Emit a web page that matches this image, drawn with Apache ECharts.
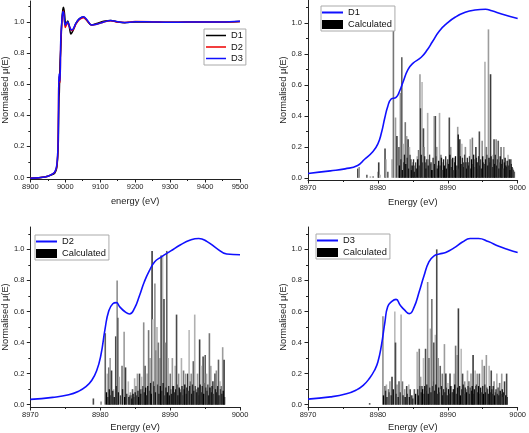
<!DOCTYPE html>
<html><head><meta charset="utf-8">
<script src="https://cdn.jsdelivr.net/npm/echarts@6/dist/echarts.min.js"></script>
<style>html,body{margin:0;padding:0;background:#fff}#c{width:529px;height:433px}</style>
</head><body><div id="c"></div>
<script>
// ---------- DATA ----------
// Panel 1: XANES overview (energy eV, normalised mu)
const xasEnergy = [8900, 8930, 8950, 8965, 8970, 8975, 8978, 8980, 8981, 8982, 8983, 8985, 8987, 8990, 8993, 8995, 8998, 9000, 9003, 9007, 9011, 9016, 9020, 9025, 9030, 9040, 9052, 9062, 9075, 9090, 9110, 9130, 9150, 9170, 9200, 9250, 9300, 9350, 9400, 9450, 9500];
const xasD1 = [-0.005, 0.0, 0.008, 0.02, 0.028, 0.055, 0.12, 0.22, 0.39, 0.51, 0.55, 0.74, 0.82, 1.0, 1.08, 1.095, 1.05, 1.0, 0.99, 1.006, 0.975, 0.923, 0.935, 0.96, 0.99, 1.02, 1.032, 1.01, 0.98, 0.99, 1.005, 1.01, 1.0, 0.995, 1.0, 1.0, 0.998, 1.0, 1.0, 1.0, 1.003];
const xasD2 = [-0.005, 0.0, 0.008, 0.025, 0.034, 0.064, 0.13, 0.32, 0.55, 0.65, 0.64, 0.61, 0.86, 0.99, 1.06, 1.07, 1.0, 0.965, 0.98, 0.995, 0.975, 0.95, 0.945, 0.96, 0.985, 1.015, 1.028, 1.01, 0.98, 0.985, 1.0, 1.008, 1.0, 0.997, 1.003, 1.002, 0.998, 1.0, 1.0, 1.0, 1.003];
const xasD3 = [-0.005, 0.0, 0.008, 0.025, 0.036, 0.07, 0.14, 0.275, 0.53, 0.665, 0.65, 0.62, 0.88, 1.0, 1.065, 1.066, 1.0, 0.98, 0.99, 1.0, 0.98, 0.952, 0.95, 0.965, 0.99, 1.02, 1.034, 1.015, 0.98, 0.985, 1.0, 1.01, 1.002, 0.996, 1.002, 1.0, 0.998, 1.0, 1.0, 1.0, 1.005];

// Pre-edge panels: measured curves [energy, mu]
const edgeD1 = [[8970,0.028],[8973.2,0.045],[8975.3,0.058],[8977.1,0.08],[8978.1,0.12],[8979.3,0.17],[8980,0.22],[8980.5,0.29],[8981,0.39],[8981.4,0.46],[8981.9,0.51],[8982.6,0.52],[8983.1,0.56],[8983.6,0.62],[8984.3,0.70],[8985,0.74],[8986.2,0.78],[8987.1,0.83],[8987.8,0.88],[8988.8,0.95],[8989.9,1.0],[8991.1,1.04],[8992.5,1.07],[8993.9,1.085],[8995.4,1.09],[8996.3,1.08],[8997.7,1.06],[9000,1.03]];
const edgeD2 = [[8970,0.034],[8973.2,0.047],[8975.5,0.064],[8976.9,0.086],[8977.9,0.114],[8978.8,0.157],[8979.5,0.22],[8980.1,0.32],[8980.7,0.49],[8981.2,0.60],[8981.8,0.65],[8982.3,0.657],[8982.8,0.63],[8983.5,0.60],[8984.2,0.584],[8984.9,0.62],[8985.6,0.70],[8986.3,0.79],[8987,0.86],[8987.8,0.92],[8988.7,0.95],[8990.1,0.99],[8991.5,1.03],[8992.9,1.06],[8994.1,1.07],[8995.3,1.05],[8996.7,1.005],[8998.1,0.97],[9000,0.965]];
const edgeD3 = [[8970,0.036],[8973.2,0.05],[8975.5,0.07],[8976.9,0.094],[8977.9,0.124],[8978.8,0.17],[8979.5,0.22],[8980,0.275],[8980.5,0.38],[8981,0.53],[8981.4,0.63],[8982,0.665],[8982.6,0.678],[8983.2,0.64],[8983.8,0.61],[8984.5,0.586],[8985.2,0.63],[8985.9,0.725],[8986.6,0.83],[8987.3,0.92],[8988,0.957],[8988.8,0.97],[8989.7,0.98],[8990.9,1.01],[8992.1,1.047],[8993.2,1.07],[8994.4,1.07],[8995.8,1.05],[8997.3,1.02],[8998.7,0.998],[9000,0.98]];

// Calculated stick spectra [energy, intensity] - prominent sticks
const calcD1 = [[8977.1,0.06],[8977.3,0.07],[8978.4,0.02],[8978.9,0.01],[8979.3,0.01],[8980.0,0.04],[8980.1,0.10],[8980.3,0.02],[8981.0,0.19],[8981.1,0.12],[8981.4,0.04],[8982.0,0.12],[8982.2,1.00],[8982.5,0.39],[8982.7,0.27],[8982.9,0.08],[8983.0,0.20],[8983.2,0.55],[8983.4,0.78],[8983.6,0.22],[8983.9,0.36],[8984.1,0.27],[8984.3,0.25],[8984.5,0.20],[8984.7,0.12],[8985.0,0.10],[8985.3,0.08],[8985.6,0.14],[8985.8,0.18],[8986.0,0.67],[8986.1,0.45],[8986.3,0.62],[8986.5,0.32],[8986.6,0.20],[8986.8,0.10],[8987.1,0.42],[8987.3,0.12],[8987.5,0.09],[8987.8,0.05],[8988.0,0.40],[8988.2,0.40],[8988.4,0.20],[8988.6,0.08],[8988.8,0.42],[8989.0,0.15],[8989.3,0.10],[8989.6,0.06],[8989.9,0.10],[8990.2,0.39],[8990.4,0.20],[8990.6,0.12],[8990.9,0.13],[8991.2,0.05],[8991.4,0.33],[8991.7,0.25],[8992.0,0.22],[8992.2,0.10],[8992.5,0.20],[8992.9,0.10],[8993.2,0.25],[8993.5,0.26],[8993.8,0.12],[8994.0,0.20],[8994.3,0.06],[8994.5,0.30],[8994.9,0.24],[8995.1,0.10],[8995.3,0.75],[8995.5,0.20],[8995.8,0.96],[8996.1,0.67],[8996.3,0.15],[8996.6,0.25],[8996.9,0.25],[8997.2,0.24],[8997.4,0.10],[8997.6,0.20],[8998.0,0.20],[8998.3,0.08],[8998.6,0.15],[8999.0,0.12],[8999.3,0.06],[8999.5,0.04]];
const calcD2 = [[8979.0,0.04],[8980.1,0.02],[8980.7,0.46],[8981.0,0.20],[8981.2,0.24],[8981.4,0.30],[8981.6,0.22],[8981.9,0.10],[8982.2,0.44],[8982.4,0.80],[8982.5,0.56],[8982.7,0.18],[8983.1,0.25],[8983.4,0.47],[8983.6,0.24],[8984.0,0.15],[8984.2,0.06],[8984.3,0.08],[8984.6,0.10],[8984.9,0.17],[8985.1,0.12],[8985.3,0.20],[8985.6,0.20],[8985.9,0.18],[8986.0,0.10],[8986.2,0.53],[8986.4,0.25],[8986.7,0.20],[8986.9,0.48],[8987.1,0.30],[8987.4,0.99],[8987.5,0.55],[8987.6,0.15],[8987.8,0.78],[8988.0,0.35],[8988.1,0.50],[8988.3,0.40],[8988.5,0.30],[8988.7,0.96],[8988.9,0.96],[8989.1,0.68],[8989.3,0.40],[8989.5,0.99],[8989.7,0.30],[8990.0,0.20],[8990.3,0.30],[8990.5,0.12],[8990.7,0.25],[8990.9,0.58],[8991.2,0.20],[8991.4,0.10],[8991.6,0.30],[8991.9,0.22],[8992.2,0.20],[8992.5,0.20],[8992.7,0.48],[8992.9,0.15],[8993.0,0.20],[8993.3,0.28],[8993.5,0.58],[8993.7,0.10],[8993.9,0.20],[8994.2,0.42],[8994.4,0.25],[8994.7,0.31],[8994.9,0.14],[8995.0,0.32],[8995.2,0.20],[8995.6,0.46],[8995.8,0.25],[8996.1,0.15],[8996.3,0.10],[8996.4,0.20],[8996.6,0.22],[8996.9,0.29],[8997.1,0.15],[8997.3,0.12],[8997.5,0.37],[8997.7,0.29]];
const calcD3 = [[8978.8,0.01],[8980.7,0.57],[8981.0,0.12],[8981.2,0.13],[8981.5,0.10],[8981.7,0.15],[8982.0,0.18],[8982.4,0.60],[8982.5,0.40],[8982.7,0.13],[8983.0,0.15],[8983.3,0.58],[8983.5,0.15],[8983.8,0.10],[8984.1,0.12],[8984.4,0.13],[8984.6,0.10],[8984.9,0.06],[8985.2,0.10],[8985.6,0.34],[8985.9,0.36],[8986.1,0.18],[8986.3,0.12],[8986.5,0.30],[8986.8,0.36],[8987.1,0.79],[8987.3,0.30],[8987.5,0.49],[8987.7,0.68],[8987.9,0.15],[8988.0,0.40],[8988.2,0.45],[8988.4,1.00],[8988.6,0.30],[8988.9,0.25],[8989.0,0.10],[8989.2,0.20],[8989.5,0.39],[8989.7,0.20],[8990.0,0.14],[8990.3,0.20],[8990.5,0.12],[8990.7,0.08],[8990.9,0.20],[8991.1,0.38],[8991.3,0.32],[8991.5,0.62],[8991.9,0.36],[8992.1,0.20],[8992.4,0.15],[8992.6,0.10],[8992.8,0.22],[8993.0,0.15],[8993.3,0.20],[8993.6,0.32],[8993.9,0.22],[8994.0,0.12],[8994.2,0.20],[8994.5,0.20],[8994.9,0.29],[8995.2,0.25],[8995.5,0.32],[8995.7,0.10],[8995.9,0.25],[8996.2,0.22],[8996.6,0.15],[8996.8,0.08],[8997.0,0.20],[8997.4,0.14],[8997.7,0.20],[8998.1,0.15],[8998.2,0.06],[8998.4,0.20]];

// Calculated stick spectra - dense weak transitions (dark base)
const calcD1Low = [[8983.1,0.08],[8983.3,0.12],[8983.5,0.05],[8983.7,0.10],[8983.8,0.15],[8984.0,0.09],[8984.2,0.13],[8984.4,0.06],[8984.6,0.15],[8984.8,0.05],[8984.9,0.08],[8985.1,0.12],[8985.2,0.04],[8985.4,0.10],[8985.5,0.06],[8985.7,0.12],[8985.9,0.08],[8986.2,0.15],[8986.4,0.10],[8986.7,0.14],[8986.9,0.06],[8987.0,0.12],[8987.2,0.08],[8987.4,0.15],[8987.6,0.10],[8987.7,0.05],[8987.9,0.13],[8988.1,0.09],[8988.3,0.14],[8988.5,0.06],[8988.7,0.11],[8988.9,0.08],[8989.1,0.13],[8989.2,0.05],[8989.4,0.12],[8989.5,0.08],[8989.7,0.14],[8989.8,0.06],[8990.0,0.12],[8990.1,0.09],[8990.3,0.15],[8990.5,0.07],[8990.7,0.13],[8990.8,0.05],[8991.0,0.10],[8991.1,0.14],[8991.3,0.08],[8991.5,0.28],[8991.6,0.06],[8991.8,0.14],[8991.9,0.09],[8992.1,0.13],[8992.3,0.07],[8992.4,0.15],[8992.6,0.10],[8992.7,0.06],[8992.8,0.13],[8993.0,0.08],[8993.1,0.14],[8993.3,0.06],[8993.4,0.12],[8993.6,0.09],[8993.7,0.15],[8993.9,0.07],[8994.1,0.13],[8994.2,0.10],[8994.4,0.14],[8994.6,0.08],[8994.7,0.12],[8994.8,0.06],[8995.0,0.14],[8995.2,0.09],[8995.4,0.12],[8995.6,0.15],[8995.7,0.08],[8995.9,0.13],[8996.0,0.10],[8996.2,0.14],[8996.4,0.07],[8996.5,0.12],[8996.7,0.09],[8996.8,0.15],[8997.0,0.08],[8997.1,0.12],[8997.3,0.06],[8997.5,0.14],[8997.7,0.09],[8997.8,0.12],[8997.9,0.06],[8998.1,0.10],[8998.2,0.13],[8998.4,0.07],[8998.5,0.11],[8998.7,0.08],[8998.8,0.12],[8998.9,0.05],[8999.1,0.09],[8999.2,0.07],[8999.4,0.05]];
const calcD2Low = [[8980.9,0.08],[8981.1,0.05],[8981.3,0.10],[8981.5,0.06],[8981.8,0.09],[8982.0,0.05],[8982.3,0.12],[8982.6,0.08],[8982.9,0.06],[8983.2,0.10],[8983.5,0.05],[8983.8,0.07],[8984.1,0.05],[8984.4,0.06],[8984.5,0.04],[8984.7,0.07],[8984.8,0.05],[8985.0,0.08],[8985.2,0.06],[8985.4,0.09],[8985.5,0.05],[8985.7,0.10],[8985.8,0.07],[8986.1,0.12],[8986.3,0.08],[8986.5,0.11],[8986.6,0.06],[8986.8,0.12],[8987.0,0.09],[8987.2,0.14],[8987.3,0.07],[8987.7,0.12],[8987.9,0.08],[8988.2,0.13],[8988.4,0.07],[8988.6,0.12],[8988.8,0.09],[8989.0,0.14],[8989.2,0.06],[8989.4,0.11],[8989.6,0.08],[8989.8,0.12],[8989.9,0.06],[8990.1,0.10],[8990.2,0.07],[8990.4,0.12],[8990.6,0.08],[8990.8,0.10],[8991.0,0.13],[8991.1,0.06],[8991.3,0.11],[8991.5,0.08],[8991.7,0.12],[8991.8,0.06],[8992.0,0.10],[8992.1,0.13],[8992.3,0.07],[8992.4,0.11],[8992.6,0.09],[8992.8,0.12],[8993.1,0.07],[8993.2,0.13],[8993.4,0.09],[8993.6,0.12],[8993.8,0.08],[8994.0,0.11],[8994.1,0.06],[8994.3,0.13],[8994.5,0.08],[8994.6,0.12],[8994.8,0.07],[8995.1,0.11],[8995.3,0.09],[8995.4,0.13],[8995.5,0.06],[8995.7,0.11],[8995.9,0.08],[8996.0,0.12],[8996.2,0.07],[8996.5,0.10],[8996.7,0.08],[8996.8,0.12],[8997.0,0.06],[8997.2,0.10],[8997.4,0.07],[8997.6,0.09],[8997.8,0.05]];
const calcD3Low = [[8980.8,0.06],[8981.1,0.09],[8981.3,0.05],[8981.6,0.08],[8981.9,0.06],[8982.2,0.10],[8982.6,0.07],[8982.9,0.05],[8983.2,0.08],[8983.6,0.06],[8983.9,0.05],[8984.2,0.07],[8984.5,0.05],[8984.8,0.06],[8985.0,0.04],[8985.4,0.07],[8985.7,0.10],[8985.8,0.06],[8986.0,0.12],[8986.2,0.08],[8986.4,0.10],[8986.6,0.07],[8986.7,0.12],[8986.9,0.09],[8987.0,0.13],[8987.2,0.07],[8987.4,0.11],[8987.6,0.08],[8987.8,0.12],[8988.1,0.09],[8988.3,0.13],[8988.5,0.07],[8988.7,0.11],[8988.8,0.08],[8989.1,0.12],[8989.3,0.06],[8989.4,0.10],[8989.6,0.08],[8989.8,0.11],[8989.9,0.06],[8990.1,0.10],[8990.2,0.07],[8990.4,0.12],[8990.6,0.08],[8990.8,0.10],[8991.0,0.13],[8991.2,0.07],[8991.4,0.11],[8991.6,0.08],[8991.7,0.12],[8991.8,0.06],[8992.0,0.10],[8992.2,0.13],[8992.3,0.07],[8992.5,0.11],[8992.7,0.08],[8992.9,0.12],[8993.1,0.07],[8993.2,0.11],[8993.4,0.09],[8993.5,0.12],[8993.7,0.07],[8993.8,0.10],[8994.1,0.13],[8994.3,0.08],[8994.4,0.12],[8994.6,0.07],[8994.7,0.11],[8994.8,0.08],[8995.0,0.12],[8995.1,0.07],[8995.3,0.13],[8995.4,0.08],[8995.6,0.11],[8995.8,0.07],[8996.0,0.12],[8996.1,0.08],[8996.3,0.10],[8996.4,0.07],[8996.5,0.12],[8996.7,0.06],[8996.9,0.10],[8997.1,0.07],[8997.2,0.11],[8997.3,0.06],[8997.5,0.09],[8997.6,0.07],[8997.8,0.10],[8997.9,0.05],[8998.0,0.08],[8998.3,0.06],[8998.5,0.05]];

// Tick labels
const yTicks = [0, 0.2, 0.4, 0.6, 0.8, 1.0];
const yMinorTicks = [0.1, 0.3, 0.5, 0.7, 0.9, 1.1];
const xTicksWide = [8900, 9000, 9100, 9200, 9300, 9400, 9500];
const xMinorWide = [8950, 9050, 9150, 9250, 9350, 9450];
const xTicksEdge = [8970, 8980, 8990, 9000];
const xMinorEdge = [8975, 8985, 8995];

// ---------- CHART ----------
const FONT = '"Liberation Sans", Arial, sans-serif';
const AX = '#222';
const grids = [
  {left: 28, top: 1, width: 212, height: 178},
  {left: 308, top: 0, width: 212, height: 180},
  {left: 28, top: 227, width: 212, height: 180},
  {left: 308, top: 227, width: 212, height: 180}
];
const yRange = [[-0.01, 1.135], [-0.014, 1.15], [-0.015, 1.144], [-0.015, 1.144]];
const xRange = [[8900, 9500], [8970, 9000], [8970, 9000], [8970, 9000]];
const xNames = ['energy (eV)', 'Energy (eV)', 'Energy (eV)', 'Energy (eV)'];
const xNameGap = [18, 17.5, 15.5, 15.5];

const xAxes = [], yAxes = [];
for (let i = 0; i < 4; i++) {
  const xt = i === 0 ? xTicksWide : xTicksEdge;
  xAxes.push({
    type: 'value', gridIndex: i, position: 'bottom', min: xRange[i][0], max: xRange[i][1],
    axisLine: {show: true, onZero: false, lineStyle: {color: AX, width: 1}},
    axisTick: {show: true, inside: false, length: 3.5, customValues: xt, lineStyle: {color: AX}},
    axisLabel: {customValues: xt, formatter: v => String(Math.round(v)), fontSize: 7.5, color: AX, margin: 4, fontFamily: FONT},
    splitLine: {show: false},
    name: xNames[i], nameLocation: 'middle', nameGap: xNameGap[i],
    nameTextStyle: {fontSize: 9.3, color: AX, fontFamily: FONT}
  });
  yAxes.push({
    type: 'value', gridIndex: i, position: 'left', min: yRange[i][0], max: yRange[i][1],
    axisLine: {show: true, onZero: false, lineStyle: {color: AX, width: 1}},
    axisTick: {show: true, inside: false, length: 3.5, customValues: yTicks, lineStyle: {color: AX}},
    axisLabel: {customValues: yTicks, formatter: v => v.toFixed(1), fontSize: 7.5, color: AX, margin: 6, fontFamily: FONT},
    splitLine: {show: false},
    name: 'Normalised μ(E)', nameLocation: 'middle', nameGap: 18.5,
    nameTextStyle: {fontSize: 9.3, color: AX, fontFamily: FONT}
  });
}
// minor tick axes (same side as the main axes)
for (let i = 0; i < 4; i++) {
  const xm = i === 0 ? xMinorWide : xMinorEdge;
  xAxes.push({
    type: 'value', gridIndex: i, position: 'bottom', offset: 0, min: xRange[i][0], max: xRange[i][1],
    axisLine: {show: false, onZero: false},
    axisTick: {show: true, inside: false, length: 2, customValues: xm, lineStyle: {color: AX}},
    axisLabel: {show: false}, splitLine: {show: false}
  });
  yAxes.push({
    type: 'value', gridIndex: i, position: 'left', offset: 0, min: yRange[i][0], max: yRange[i][1],
    axisLine: {show: false, onZero: false},
    axisTick: {show: true, inside: false, length: 2, customValues: yMinorTicks, lineStyle: {color: AX}},
    axisLabel: {show: false}, splitLine: {show: false}
  });
}

const greys = ['#4a4a4a', '#8e8e8e', '#606060', '#b0b0b0', '#767676', '#9c9c9c', '#3c3c3c', '#bababa'];
const darks = ['#000000', '#2a2a2a', '#111111', '#404040', '#1c1c1c'];
function sticks(data, i, palette, w) {
  return {
    type: 'bar', name: 'Calculated', xAxisIndex: i, yAxisIndex: i,
    data: data, barWidth: w, barGap: '-100%', silent: true,
    itemStyle: {color: p => palette[p.dataIndex % palette.length]}
  };
}
function curve(name, data, i, color, width, smooth) {
  return {
    type: 'line', name: name, xAxisIndex: i, yAxisIndex: i, data: data,
    symbol: 'none', smooth: smooth, lineStyle: {color: color, width: width},
    itemStyle: {color: color}, silent: true
  };
}
const zip = (a, b) => a.map((v, k) => [v, b[k]]);

const BLUE = '#1010ff';
const series = [
  curve('D1', zip(xasEnergy, xasD1), 0, '#000000', 1.5, 0.3),
  curve('D2', zip(xasEnergy, xasD2), 0, '#ee0000', 1.5, 0.3),
  curve('D3', zip(xasEnergy, xasD3), 0, BLUE, 1.5, 0.3),
  sticks(calcD1, 1, greys, 1.6), sticks(calcD1Low, 1, darks, 1.3), curve('D1', edgeD1, 1, BLUE, 1.6, 0.5),
  sticks(calcD2, 2, greys, 1.6), sticks(calcD2Low, 2, darks, 1.3), curve('D2', edgeD2, 2, BLUE, 1.6, 0.5),
  sticks(calcD3, 3, greys, 1.6), sticks(calcD3Low, 3, darks, 1.3), curve('D3', edgeD3, 3, BLUE, 1.6, 0.5)
];

// legend line icon: thin bar centred in a 21x9 box
const LINE_ICON = 'path://M0,0h0.01v0.01h-0.01zM0,3.6h21v1.8h-21zM21,9h-0.01v-0.01h0.01z';
const legTxt = {fontSize: 9.3, color: '#111', fontFamily: FONT};
function lineItem(name, color) {
  return {name: name, icon: LINE_ICON, itemStyle: {color: color, borderWidth: 0}};
}
const calcItem = {name: 'Calculated', icon: 'rect', itemStyle: {color: '#000', borderWidth: 0}};
function legendBox(left, top, data) {
  return {
    left: left, top: top, orient: 'vertical', data: data,
    itemWidth: 21, itemHeight: 9, itemGap: 3, padding: [2, 3, 2, 1],
    borderColor: '#aaaaaa', borderWidth: 1, backgroundColor: '#fff',
    textStyle: legTxt, selectedMode: false
  };
}
const legends = [
  Object.assign(legendBox(204, 29, [lineItem('D1', '#000'), lineItem('D2', '#ee0000'), lineItem('D3', BLUE)]), {itemGap: 2.5, padding: [2, 3, 2, 2], itemWidth: 20}),
  legendBox(321, 6, [lineItem('D1', BLUE), calcItem]),
  legendBox(35, 235, [lineItem('D2', BLUE), calcItem]),
  legendBox(316, 234, [lineItem('D3', BLUE), calcItem])
];

const chart = echarts.init(document.getElementById('c'), null, {renderer: 'canvas'});
chart.setOption({
  animation: false,
  backgroundColor: '#fff',
  grid: grids,
  xAxis: xAxes,
  yAxis: yAxes,
  legend: legends,
  series: series
});
</script></body></html>
